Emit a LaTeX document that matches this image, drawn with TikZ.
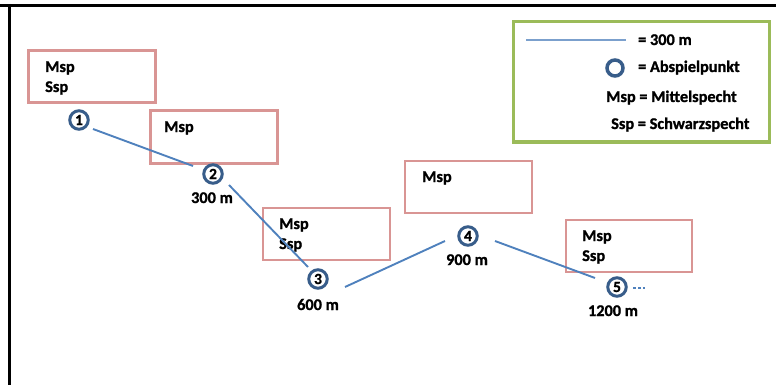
\documentclass[tikz,border=0pt]{standalone}
\usepackage{fontspec}
\setmainfont{Carlito}[BoldFeatures={FakeBold=1.2}]
\usetikzlibrary{calc}
\definecolor{boxpink}{HTML}{D99594}
\definecolor{lineblue}{HTML}{4F81BD}
\definecolor{legblue}{HTML}{7BA0CD}
\definecolor{ringblue}{HTML}{385D8A}
\definecolor{leggreen}{HTML}{9BBB59}
\tikzset{
  pbox/.style={draw=boxpink, line width=2.6pt, inner sep=0pt},
  lbl/.style={font=\fontsize{16.3}{19}\selectfont\bfseries, inner sep=0pt, anchor=base west},
  dist/.style={font=\fontsize{16.3}{19}\selectfont\bfseries, inner sep=0pt, anchor=base},
  ring/.style={circle, draw=ringblue, line width=3pt, minimum size=18.5pt, inner sep=0pt, font=\fontsize{15.5}{16}\selectfont\bfseries},
  route/.style={draw=lineblue, line width=1.9pt},
}
\begin{document}
\begin{tikzpicture}[x=1pt,y=-1pt]
\useasboundingbox (0,0) rectangle (776,385);
% frame
\draw[line width=3.5pt] (0,5.5) -- (776,5.5);
\draw[line width=3pt] (9.5,4) -- (9.5,385);
% boxes
\node[pbox, minimum width=127pt, minimum height=52pt] (b1) at (92,76.5) {};
\node[pbox, minimum width=127pt, minimum height=53pt] (b2) at (214,137) {};
\node[pbox, minimum width=127pt, minimum height=52pt] (b3) at (326.5,234) {};
\node[pbox, minimum width=127pt, minimum height=52pt] (b4) at (468.5,187) {};
\node[pbox, minimum width=126pt, minimum height=52pt] (b5) at (629,246) {};
% box texts
\node[lbl] (t1a) at (45,72) {Msp};
\node[lbl] (t1b) at (45,92) {Ssp};
\node[lbl] (t2a) at (164,132) {Msp};
\node[lbl] (t3a) at (279,229) {Msp};
\node[lbl] (t3b) at (279,249) {Ssp};
\node[lbl] (t4a) at (422,182) {Msp};
\node[lbl] (t5a) at (582,241) {Msp};
\node[lbl] (t5b) at (582,261) {Ssp};
% points
\node[ring] (c1) at (79,120) {1};
\node[ring] (c2) at (213,174) {2};
\node[ring] (c3) at (318,279) {3};
\node[ring] (c4) at (468,236) {4};
\node[ring] (c5) at (617,287) {5};
% distances
\node[dist] (d2) at (212,203) {300 m};
\node[dist] (d3) at (318,310) {600 m};
\node[dist] (d4) at (467,265) {900 m};
\node[dist] (d5) at (613,316) {1200 m};
% route
\draw[route] ($(c1)+(14,9)$) -- ($(c2)+(-20,-8)$);
\draw[route] ($(c2)+(16,11)$) -- ($(c3)+(-10,-12)$);
\draw[route] ($(c3)+(27,8)$) -- ($(c4)+(-23,5)$);
\draw[route] ($(c4)+(27,5)$) -- ($(c5)+(-22,-9)$);
\coordinate (cont) at ($(c5)+(28,1)$);
\draw[route, line width=1.3pt, dash pattern=on 3pt off 2pt] ($(c5)+(16,1)$) -- (cont);
% legend
\node[draw=leggreen, line width=3pt, minimum width=256pt, minimum height=120pt, inner sep=0pt] (leg) at (641,82) {};
\coordinate (la) at (526,40);
\coordinate (lb) at (626,40);
\draw[draw=legblue, line width=1.8pt] (la) -- (lb);
\node[lbl] (lt1) at (638,45) {= 300 m};
\node[circle, draw=ringblue, line width=3.5pt, minimum size=16pt, inner sep=0pt] (lc) at (615,68) {};
\node[lbl] (lt2) at (638,72) {= Abspielpunkt};
\node[lbl] (lt3) at (606,102) {Msp = Mittelspecht};
\node[lbl] (lt4) at (611,129) {Ssp = Schwarzspecht};
\end{tikzpicture}
\end{document}
